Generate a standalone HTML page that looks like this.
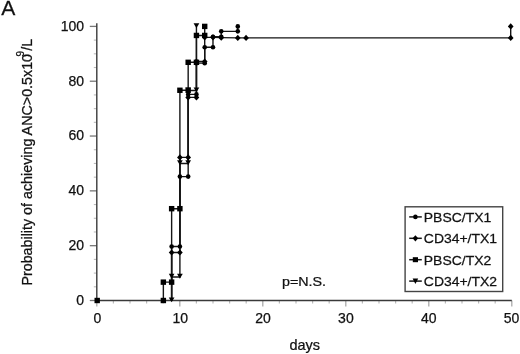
<!DOCTYPE html>
<html><head><meta charset="utf-8"><style>
html,body{margin:0;padding:0;background:#fff;}
svg{display:block;}
text{font-family:"Liberation Sans",Arial,sans-serif;fill:#111;stroke:#111;stroke-width:0.25px;}
.tk{font-size:14px;}
.lg{font-size:13.3px;}
.ax line{stroke:#3a3a3a;stroke-width:1.4;}
.ax line.mn{stroke:#bbb;stroke-width:1.2;}
.ax line.mj{stroke:#777;stroke-width:1.3;}
.ax line.mjx{stroke:#aaa;stroke-width:1.3;}
.ax line.mny{stroke:#bbb;stroke-width:1.1;}
</style></head><body>
<svg width="520" height="354" viewBox="0 0 520 354">
<rect width="520" height="354" fill="#fff"/>
<text transform="translate(1.2,15.1) scale(1.03,1)" style="font-size:20.5px">A</text>
<g class="ax"><line x1="89.80" y1="300.50" x2="96.80" y2="300.50" class="mj"/><line x1="93.80" y1="286.80" x2="96.80" y2="286.80" class="mny"/><line x1="93.80" y1="273.09" x2="96.80" y2="273.09" class="mny"/><line x1="93.80" y1="259.38" x2="96.80" y2="259.38" class="mny"/><line x1="89.80" y1="245.68" x2="96.80" y2="245.68" class="mj"/><line x1="93.80" y1="231.97" x2="96.80" y2="231.97" class="mny"/><line x1="93.80" y1="218.27" x2="96.80" y2="218.27" class="mny"/><line x1="93.80" y1="204.56" x2="96.80" y2="204.56" class="mny"/><line x1="89.80" y1="190.86" x2="96.80" y2="190.86" class="mj"/><line x1="93.80" y1="177.16" x2="96.80" y2="177.16" class="mny"/><line x1="93.80" y1="163.45" x2="96.80" y2="163.45" class="mny"/><line x1="93.80" y1="149.75" x2="96.80" y2="149.75" class="mny"/><line x1="89.80" y1="136.04" x2="96.80" y2="136.04" class="mj"/><line x1="93.80" y1="122.33" x2="96.80" y2="122.33" class="mny"/><line x1="93.80" y1="108.63" x2="96.80" y2="108.63" class="mny"/><line x1="93.80" y1="94.92" x2="96.80" y2="94.92" class="mny"/><line x1="89.80" y1="81.22" x2="96.80" y2="81.22" class="mj"/><line x1="93.80" y1="67.51" x2="96.80" y2="67.51" class="mny"/><line x1="93.80" y1="53.81" x2="96.80" y2="53.81" class="mny"/><line x1="93.80" y1="40.11" x2="96.80" y2="40.11" class="mny"/><line x1="89.80" y1="26.40" x2="96.80" y2="26.40" class="mj"/><line x1="96.80" y1="300.50" x2="96.80" y2="306.50" class="mjx"/><line x1="113.40" y1="300.50" x2="113.40" y2="303.50" class="mn"/><line x1="130.00" y1="300.50" x2="130.00" y2="303.50" class="mn"/><line x1="146.60" y1="300.50" x2="146.60" y2="303.50" class="mn"/><line x1="163.20" y1="300.50" x2="163.20" y2="303.50" class="mn"/><line x1="179.80" y1="300.50" x2="179.80" y2="306.50" class="mjx"/><line x1="196.40" y1="300.50" x2="196.40" y2="303.50" class="mn"/><line x1="213.00" y1="300.50" x2="213.00" y2="303.50" class="mn"/><line x1="229.60" y1="300.50" x2="229.60" y2="303.50" class="mn"/><line x1="246.20" y1="300.50" x2="246.20" y2="303.50" class="mn"/><line x1="262.80" y1="300.50" x2="262.80" y2="306.50" class="mjx"/><line x1="279.40" y1="300.50" x2="279.40" y2="303.50" class="mn"/><line x1="296.00" y1="300.50" x2="296.00" y2="303.50" class="mn"/><line x1="312.60" y1="300.50" x2="312.60" y2="303.50" class="mn"/><line x1="329.20" y1="300.50" x2="329.20" y2="303.50" class="mn"/><line x1="345.80" y1="300.50" x2="345.80" y2="306.50" class="mjx"/><line x1="362.40" y1="300.50" x2="362.40" y2="303.50" class="mn"/><line x1="379.00" y1="300.50" x2="379.00" y2="303.50" class="mn"/><line x1="395.60" y1="300.50" x2="395.60" y2="303.50" class="mn"/><line x1="412.20" y1="300.50" x2="412.20" y2="303.50" class="mn"/><line x1="428.80" y1="300.50" x2="428.80" y2="306.50" class="mjx"/><line x1="445.40" y1="300.50" x2="445.40" y2="303.50" class="mn"/><line x1="462.00" y1="300.50" x2="462.00" y2="303.50" class="mn"/><line x1="478.60" y1="300.50" x2="478.60" y2="303.50" class="mn"/><line x1="495.20" y1="300.50" x2="495.20" y2="303.50" class="mn"/><line x1="511.80" y1="300.50" x2="511.80" y2="306.50" class="mjx"/><line x1="96.80" y1="23.3" x2="96.80" y2="300.50" /><line x1="96.80" y1="300.50" x2="511.80" y2="300.50" /></g>
<text x="84.1" y="304.90" text-anchor="end" class="tk">0</text><text x="84.1" y="250.08" text-anchor="end" class="tk">20</text><text x="84.1" y="195.26" text-anchor="end" class="tk">40</text><text x="84.1" y="140.44" text-anchor="end" class="tk">60</text><text x="84.1" y="85.62" text-anchor="end" class="tk">80</text><text x="84.1" y="30.80" text-anchor="end" class="tk">100</text><text x="97.50" y="322.7" text-anchor="middle" class="tk">0</text><text x="180.30" y="322.7" text-anchor="middle" class="tk">10</text><text x="263.10" y="322.7" text-anchor="middle" class="tk">20</text><text x="345.90" y="322.7" text-anchor="middle" class="tk">30</text><text x="428.70" y="322.7" text-anchor="middle" class="tk">40</text><text x="511.50" y="322.7" text-anchor="middle" class="tk">50</text>
<text transform="translate(32.2,285.6) rotate(-90)" style="font-size:14.3px">Probability of achieving ANC&gt;0.5x10<tspan dx="-2.6" dy="-8.5" style="font-size:10px">9</tspan><tspan dx="0.3" dy="8.5">/L</tspan></text>
<text transform="translate(282.0,285.6) scale(1.067,1)" style="font-size:13.4px">p=N.S.</text>
<text transform="translate(289.5,349.7) scale(1.035,1)" style="font-size:14px">days</text>
<g><path d="M163.36 300.50L163.36 282.14L171.63 282.14L171.63 208.68L179.90 208.68L179.90 90.27L188.17 90.27L188.17 62.31L196.44 62.31L196.44 35.45L204.71 35.45L204.71 26.40" fill="none" stroke="#151515" stroke-width="1.4"/><path d="M171.63 300.50L171.63 276.93L179.90 276.93L179.90 163.45L188.17 163.45L188.17 90.54L196.44 90.54L196.44 26.40" fill="none" stroke="#151515" stroke-width="1.4"/><path d="M171.63 300.50L171.63 252.53L179.90 252.53L179.90 157.42L188.17 157.42L188.17 97.39L196.44 97.39L196.44 61.48L204.71 61.48L204.71 37.36L212.98 37.36L221.25 37.64L237.79 37.91L246.06 37.91L510.70 37.91L510.70 26.40" fill="none" stroke="#151515" stroke-width="1.4"/><path d="M171.63 300.50L171.63 246.50L179.90 246.50L179.90 176.61L188.17 176.61L188.17 94.38L196.44 94.38L196.44 63.13L204.71 63.13L204.71 47.23L212.98 47.23L212.98 36.82L221.25 36.82L221.25 31.33L237.79 31.33L237.79 26.40" fill="none" stroke="#151515" stroke-width="1.4"/></g>
<g fill="#000"><circle cx="171.63" cy="246.50" r="2.3"/><circle cx="179.90" cy="246.50" r="2.3"/><circle cx="179.90" cy="176.61" r="2.3"/><circle cx="188.17" cy="176.61" r="2.3"/><circle cx="188.17" cy="94.38" r="2.3"/><circle cx="196.44" cy="94.38" r="2.3"/><circle cx="196.44" cy="63.13" r="2.3"/><circle cx="204.71" cy="63.13" r="2.3"/><circle cx="204.71" cy="47.23" r="2.3"/><circle cx="212.98" cy="47.23" r="2.3"/><circle cx="212.98" cy="36.82" r="2.3"/><circle cx="221.25" cy="36.82" r="2.3"/><circle cx="221.25" cy="31.33" r="2.3"/><circle cx="237.79" cy="31.33" r="2.3"/><circle cx="237.79" cy="26.40" r="2.3"/><path d="M171.63 249.48L174.48 252.53L171.63 255.58L168.78 252.53Z"/><path d="M179.90 249.48L182.75 252.53L179.90 255.58L177.05 252.53Z"/><path d="M179.90 154.37L182.75 157.42L179.90 160.47L177.05 157.42Z"/><path d="M188.17 154.37L191.02 157.42L188.17 160.47L185.32 157.42Z"/><path d="M188.17 94.34L191.02 97.39L188.17 100.44L185.32 97.39Z"/><path d="M196.44 94.34L199.29 97.39L196.44 100.44L193.59 97.39Z"/><path d="M196.44 58.43L199.29 61.48L196.44 64.53L193.59 61.48Z"/><path d="M204.71 58.43L207.56 61.48L204.71 64.53L201.86 61.48Z"/><path d="M204.71 34.31L207.56 37.36L204.71 40.41L201.86 37.36Z"/><path d="M212.98 34.31L215.83 37.36L212.98 40.41L210.13 37.36Z"/><path d="M221.25 34.59L224.10 37.64L221.25 40.69L218.40 37.64Z"/><path d="M237.79 34.86L240.64 37.91L237.79 40.96L234.94 37.91Z"/><path d="M246.06 34.86L248.91 37.91L246.06 40.96L243.21 37.91Z"/><path d="M510.70 34.86L513.55 37.91L510.70 40.96L507.85 37.91Z"/><path d="M510.70 23.35L513.55 26.40L510.70 29.45L507.85 26.40Z"/><rect x="94.50" y="297.80" width="5.4" height="5.4"/><rect x="160.66" y="297.80" width="5.4" height="5.4"/><rect x="160.66" y="279.44" width="5.4" height="5.4"/><rect x="168.93" y="279.44" width="5.4" height="5.4"/><rect x="168.93" y="205.98" width="5.4" height="5.4"/><rect x="177.20" y="205.98" width="5.4" height="5.4"/><rect x="177.20" y="87.57" width="5.4" height="5.4"/><rect x="185.47" y="87.57" width="5.4" height="5.4"/><rect x="185.47" y="59.61" width="5.4" height="5.4"/><rect x="193.74" y="59.61" width="5.4" height="5.4"/><rect x="193.74" y="32.75" width="5.4" height="5.4"/><rect x="202.01" y="32.75" width="5.4" height="5.4"/><rect x="202.01" y="23.70" width="5.4" height="5.4"/><path d="M168.78 297.40L174.48 297.40L171.63 302.30Z"/><path d="M168.78 273.83L174.48 273.83L171.63 278.73Z"/><path d="M177.05 273.83L182.75 273.83L179.90 278.73Z"/><path d="M177.05 160.35L182.75 160.35L179.90 165.25Z"/><path d="M185.32 160.35L191.02 160.35L188.17 165.25Z"/><path d="M185.32 87.44L191.02 87.44L188.17 92.34Z"/><path d="M193.59 87.44L199.29 87.44L196.44 92.34Z"/><path d="M193.59 23.30L199.29 23.30L196.44 28.20Z"/></g>
<g fill="#000"><rect x="405.1" y="206.8" width="97.60" height="84.70" fill="#fff" stroke="#444" stroke-width="1.4"/><line x1="409.2" y1="216.90" x2="421.8" y2="216.90" stroke="#151515" stroke-width="1.5"/><circle cx="415.4" cy="216.90" r="2.3"/><text transform="translate(423.8,221.70) scale(1.05,1)" class="lg">PBSC/TX1</text><line x1="409.2" y1="238.30" x2="421.8" y2="238.30" stroke="#151515" stroke-width="1.5"/><path d="M415.4 235.20L418.2 238.30L415.4 241.40L412.6 238.30Z"/><text transform="translate(423.8,243.10) scale(1.05,1)" class="lg">CD34+/TX1</text><line x1="409.2" y1="259.70" x2="421.8" y2="259.70" stroke="#151515" stroke-width="1.5"/><rect x="412.80" y="257.20" width="5.2" height="5"/><text transform="translate(423.8,264.50) scale(1.05,1)" class="lg">PBSC/TX2</text><line x1="409.2" y1="281.10" x2="421.8" y2="281.10" stroke="#151515" stroke-width="1.5"/><path d="M412.6 278.50L418.2 278.50L415.4 283.90Z"/><text transform="translate(423.8,285.90) scale(1.05,1)" class="lg">CD34+/TX2</text></g>
</svg>
</body></html>
